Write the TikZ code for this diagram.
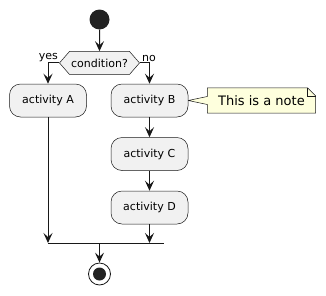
\documentclass[tikz,border=0pt]{standalone}
\usepackage{fontspec}
\setmainfont{DejaVu Sans}
\usetikzlibrary{arrows.meta, positioning, shapes.symbols, calc, backgrounds}

\definecolor{boxfill}{HTML}{F1F1F1}
\definecolor{lineclr}{HTML}{181818}
\definecolor{dotclr}{HTML}{222222}
\definecolor{notefill}{HTML}{FEFFDD}

\begin{document}
\begin{tikzpicture}[
    x=1pt, y=-1pt,
    node distance=20pt and 24pt,
    every node/.style={font=\fontsize{11}{13}\selectfont, text=black},
    arrow/.style={-{Stealth[length=10pt,width=9pt,inset=4pt]}, line width=1pt, draw=lineclr},
    line/.style={line width=1pt, draw=lineclr},
    activity/.style={rectangle, rounded corners=11pt, draw=lineclr, line width=0.5pt, fill=boxfill, minimum width=77pt, minimum height=33pt, inner sep=0pt},
    choice/.style={signal, signal to=east and west, signal pointer angle=98, draw=lineclr, line width=0.5pt, fill=boxfill, minimum width=80pt, minimum height=23pt, inner sep=0pt},
    startdot/.style={circle, fill=dotclr, minimum size=20pt, inner sep=0pt},
    stopdot/.style={circle, draw=lineclr, line width=0.8pt, fill=white, minimum size=22pt, inner sep=0pt},
    notetext/.style={font=\fontsize{13}{15}\selectfont, minimum width=108pt, minimum height=25pt, inner sep=0pt},
    noteline/.style={draw=lineclr, line width=0.5pt}
]
\useasboundingbox (0,0) rectangle (326,295);

\node[startdot] (start) at (99.5,19.5) {};
\node[choice, below=21.5pt of start] (cond) {condition?};
\node[activity] (actB) at (149.5,100.5) {activity B};
\node[activity, left=of actB] (actA) {activity A};
\node[activity, below=of actB] (actC) {activity C};
\node[activity, below=of actC] (actD) {activity D};
\node[notetext, right=19pt of actB] (note) {This is a note};
\node[stopdot] (stop) at (99.5,274) {};
\node[circle, fill=dotclr, minimum size=13pt, inner sep=0pt] (stopin) at (stop) {};

\node[anchor=south east, inner sep=1pt] (yes) at (cond.west) {yes};
\node[anchor=south west, inner sep=1pt, xshift=1pt] (no) at (cond.east) {no};

\coordinate (merge) at (99.5,243);
\coordinate (barend) at (164,243);

% the note with its folded corner
\begin{scope}[on background layer]
\draw[noteline, fill=notefill] (note.north west) -- ($(note.north east)+(-8,0)$) -- ($(note.north east)+(0,8)$) -- (note.south east) -- (note.south west) -- ($(note.west)+(0,4)$) -- (actB.east) -- ($(note.west)+(0,-4)$) -- cycle;
\draw[noteline] ($(note.north east)+(-8,0)$) -- ($(note.north east)+(-8,8)$) -- ($(note.north east)+(0,8)$);
\end{scope}

\draw[arrow] (start) -- (cond);
\draw[arrow] (cond.west) -| (actA.north);
\draw[arrow] (cond.east) -| (actB.north);
\draw[arrow] (actB) -- (actC);
\draw[arrow] (actC) -- (actD);
\draw[arrow] (actA.south) -- (merge -| actA);
\draw[arrow] (actD.south) -- (merge -| actD);
\draw[line] (merge -| actA) -- (barend);
\draw[arrow] (merge) -- (stop.north);

\end{tikzpicture}
\end{document}
